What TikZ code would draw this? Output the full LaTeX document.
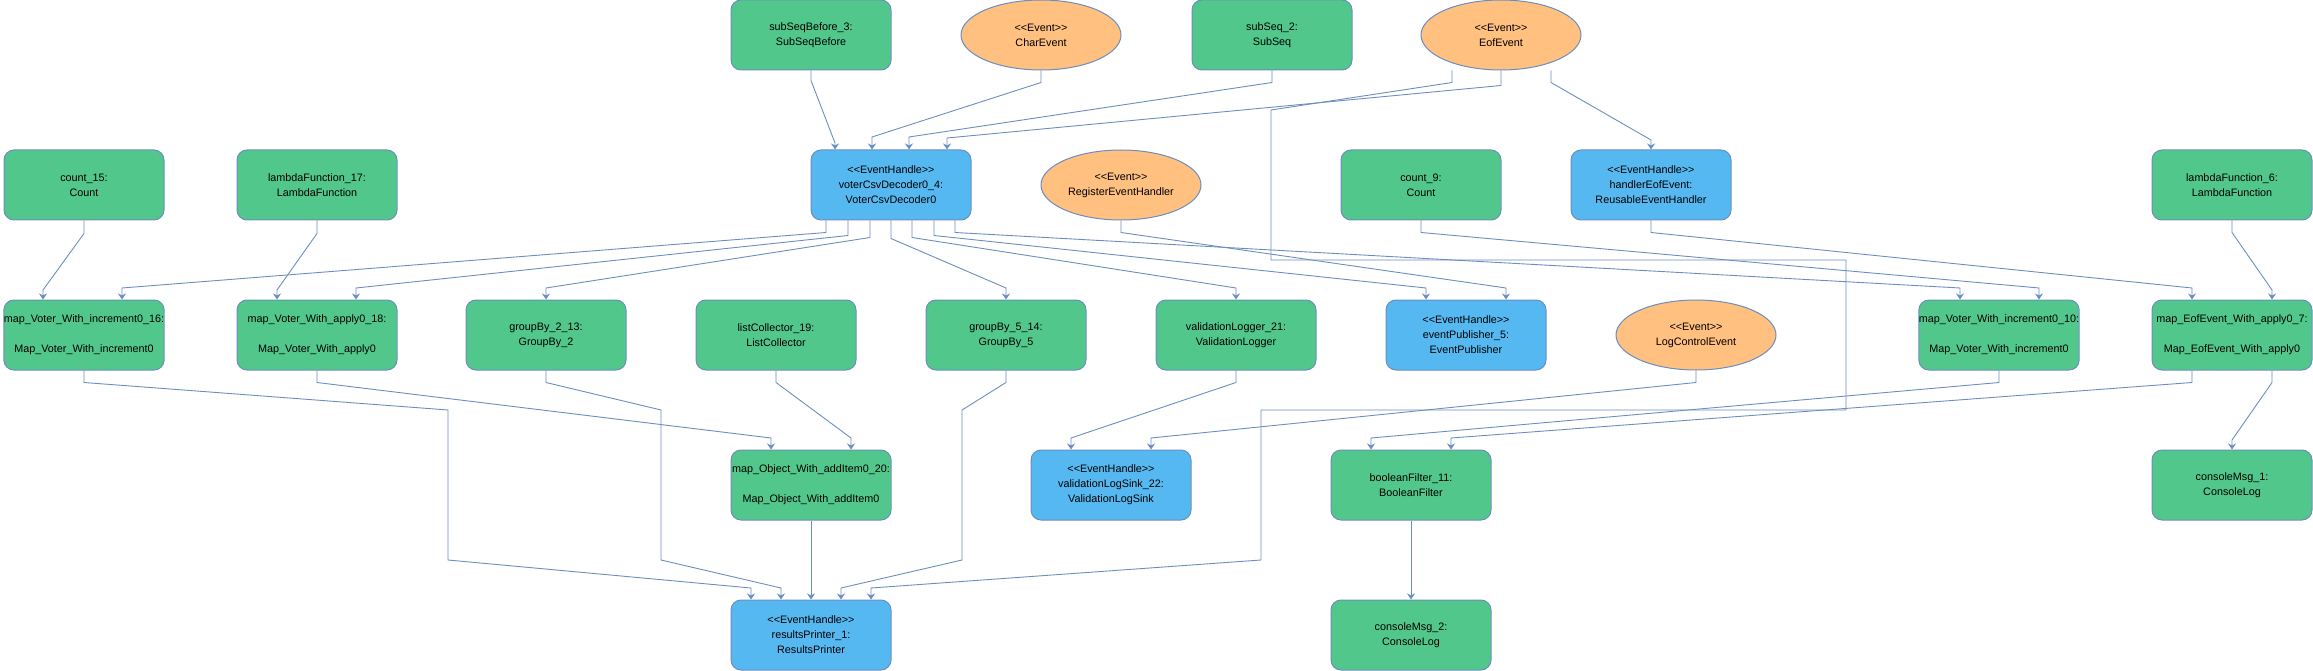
\documentclass[tikz,border=0pt]{standalone}
\usepackage{fontspec}
\setmainfont{Liberation Sans}
\usepackage{xcolor}
\usepackage{tikz}
\usetikzlibrary{arrows.meta,shapes.geometric}
\definecolor{compgreen}{HTML}{52C78B}
\definecolor{handleblue}{HTML}{56B8F0}
\definecolor{eventorange}{HTML}{FFC080}
\definecolor{edgeblue}{HTML}{6C8EBF}
\newcommand{\stereo}[1]{<\mbox{}<#1>\mbox{}>}

\begin{document}
\begin{tikzpicture}[>={Stealth[length=6pt,width=8pt,inset=2pt]}, x=1pt, y=1pt,
  every node/.style={font=\fontsize{10.8}{15}\selectfont, align=center, inner sep=0pt},
  comp/.style={draw=edgeblue, line width=1pt, fill=compgreen, rounded corners=10, minimum width=160, minimum height=70},
  handle/.style={comp, fill=handleblue},
  event/.style={draw=edgeblue, line width=1pt, fill=eventorange, ellipse, minimum width=160, minimum height=70},
  flow/.style={->, draw=edgeblue, line width=0.9pt}]
  \useasboundingbox (0,0) rectangle (2313,-671);

  \node[comp]   (sub3)   at (811,-35)  {subSeqBefore\_3:\\SubSeqBefore};
  \node[event]  (charev) at (1041,-35) {\stereo{Event}\\CharEvent};
  \node[comp]   (sub2)   at (1272,-35) {subSeq\_2:\\SubSeq};
  \node[event]  (eofev)  at (1501,-35) {\stereo{Event}\\EofEvent};

  \node[comp]   (count15)  at (84,-185)   {count\_15:\\Count};
  \node[comp]   (lambda17) at (317,-185)  {lambdaFunction\_17:\\LambdaFunction};
  \node[handle] (voter)    at (891,-185)  {\stereo{EventHandle}\\voterCsvDecoder0\_4:\\VoterCsvDecoder0};
  \node[event]  (regev)    at (1121,-185) {\stereo{Event}\\RegisterEventHandler};
  \node[comp]   (count9)   at (1421,-185) {count\_9:\\Count};
  \node[handle] (handler)  at (1651,-185) {\stereo{EventHandle}\\handlerEofEvent:\\ReusableEventHandler};
  \node[comp]   (lambda6)  at (2232,-185) {lambdaFunction\_6:\\LambdaFunction};

  \node[comp]   (map16)     at (84,-335)   {map\_Voter\_With\_increment0\_16:\\[15pt]Map\_Voter\_With\_increment0};
  \node[comp]   (map18)     at (317,-335)  {map\_Voter\_With\_apply0\_18:\\[15pt]Map\_Voter\_With\_apply0};
  \node[comp]   (group2)    at (546,-335)  {groupBy\_2\_13:\\GroupBy\_2};
  \node[comp]   (listcol)   at (776,-335)  {listCollector\_19:\\ListCollector};
  \node[comp]   (group5)    at (1006,-335) {groupBy\_5\_14:\\GroupBy\_5};
  \node[comp]   (vallog)    at (1236,-335) {validationLogger\_21:\\ValidationLogger};
  \node[handle] (publisher) at (1466,-335) {\stereo{EventHandle}\\eventPublisher\_5:\\EventPublisher};
  \node[event]  (logctl)    at (1696,-335) {\stereo{Event}\\LogControlEvent};
  \node[comp]   (map10)     at (1999,-335) {map\_Voter\_With\_increment0\_10:\\[15pt]Map\_Voter\_With\_increment0};
  \node[comp]   (mapeof)    at (2232,-335) {map\_EofEvent\_With\_apply0\_7:\\[15pt]Map\_EofEvent\_With\_apply0};

  \node[comp]   (mapobj)   at (811,-485)  {map\_Object\_With\_addItem0\_20:\\[15pt]Map\_Object\_With\_addItem0};
  \node[handle] (valsink)  at (1111,-485) {\stereo{EventHandle}\\validationLogSink\_22:\\ValidationLogSink};
  \node[comp]   (boolf)    at (1411,-485) {booleanFilter\_11:\\BooleanFilter};
  \node[comp]   (console1) at (2232,-485) {consoleMsg\_1:\\ConsoleLog};

  \node[handle] (printer)  at (811,-635)  {\stereo{EventHandle}\\resultsPrinter\_1:\\ResultsPrinter};
  \node[comp]   (console2) at (1411,-635) {consoleMsg\_2:\\ConsoleLog};

  \draw[flow] (sub3.south) -- ++(0,-10) -- (835,-143) -- (835,0 |- voter.north);
  \draw[flow] (charev.south) -- ++(0,-12) -- (872,-137) -- (872,0 |- voter.north);
  \draw[flow] (sub2.south) -- ++(0,-12) -- (909,-137) -- (909,0 |- voter.north);
  \draw[flow] (eofev.south) -- ++(0,-15) -- (947,-138) -- (947,0 |- voter.north);
  \draw[flow] (1551,0 |- eofev.south) -- ++(0,-12) -- (1651,-140) -- (handler.north);
  \draw[flow] (1452,0 |- eofev.south) -- ++(0,-12) -- (1271,-110) -- (1271,-260) -- (1846,-260)
    -- (1846,-410) -- (1261,-410) -- (1261,-560) -- (871,-588) -- (871,0 |- printer.north);

  \draw[flow] (count15.south) -- ++(0,-13) -- (43,-290) -- (43,0 |- map16.north);
  \draw[flow] (826,0 |- voter.south) -- ++(0,-12) -- (122,-288) -- (122,0 |- map16.north);
  \draw[flow] (lambda17.south) -- ++(0,-13) -- (277,-290) -- (277,0 |- map18.north);
  \draw[flow] (848,0 |- voter.south) -- ++(0,-15) -- (356,-288) -- (356,0 |- map18.north);
  \draw[flow] (870,0 |- voter.south) -- ++(0,-17) -- (546,-288) -- (group2.north);
  \draw[flow] (voter.south) -- ++(0,-18) -- (1006,-288) -- (group5.north);
  \draw[flow] (912,0 |- voter.south) -- ++(0,-17) -- (1236,-288) -- (vallog.north);
  \draw[flow] (934,0 |- voter.south) -- ++(0,-15) -- (1426,-288) -- (1426,0 |- publisher.north);
  \draw[flow] (955,0 |- voter.south) -- ++(0,-12) -- (1960,-288) -- (1960,0 |- map10.north);
  \draw[flow] (regev.south) -- ++(0,-12) -- (1506,-288) -- (1506,0 |- publisher.north);
  \draw[flow] (count9.south) -- ++(0,-12) -- (2039,-288) -- (2039,0 |- map10.north);
  \draw[flow] (handler.south) -- ++(0,-12) -- (2192,-288) -- (2192,0 |- mapeof.north);
  \draw[flow] (lambda6.south) -- ++(0,-12) -- (2272,-290) -- (2272,0 |- mapeof.north);

  \draw[flow] (map16.south) -- ++(0,-12) -- (448,-410) -- (448,-560) -- (751,-588) -- (751,0 |- printer.north);
  \draw[flow] (map18.south) -- ++(0,-12) -- (771,-438) -- (771,0 |- mapobj.north);
  \draw[flow] (group2.south) -- ++(0,-12) -- (661,-410) -- (661,-560) -- (781,-588) -- (781,0 |- printer.north);
  \draw[flow] (listcol.south) -- ++(0,-12) -- (851,-438) -- (851,0 |- mapobj.north);
  \draw[flow] (mapobj.south) -- (printer.north);
  \draw[flow] (group5.south) -- ++(0,-12) -- (962,-410) -- (962,-560) -- (841,-588) -- (841,0 |- printer.north);
  \draw[flow] (vallog.south) -- ++(0,-12) -- (1071,-438) -- (1071,0 |- valsink.north);
  \draw[flow] (logctl.south) -- ++(0,-12) -- (1151,-438) -- (1151,0 |- valsink.north);
  \draw[flow] (map10.south) -- ++(0,-12) -- (1371,-438) -- (1371,0 |- boolf.north);
  \draw[flow] (2192,0 |- mapeof.south) -- ++(0,-12) -- (1451,-438) -- (1451,0 |- boolf.north);
  \draw[flow] (2272,0 |- mapeof.south) -- ++(0,-12) -- (2232,-440) -- (console1.north);
  \draw[flow] (boolf.south) -- (console2.north);
\end{tikzpicture}
\end{document}
